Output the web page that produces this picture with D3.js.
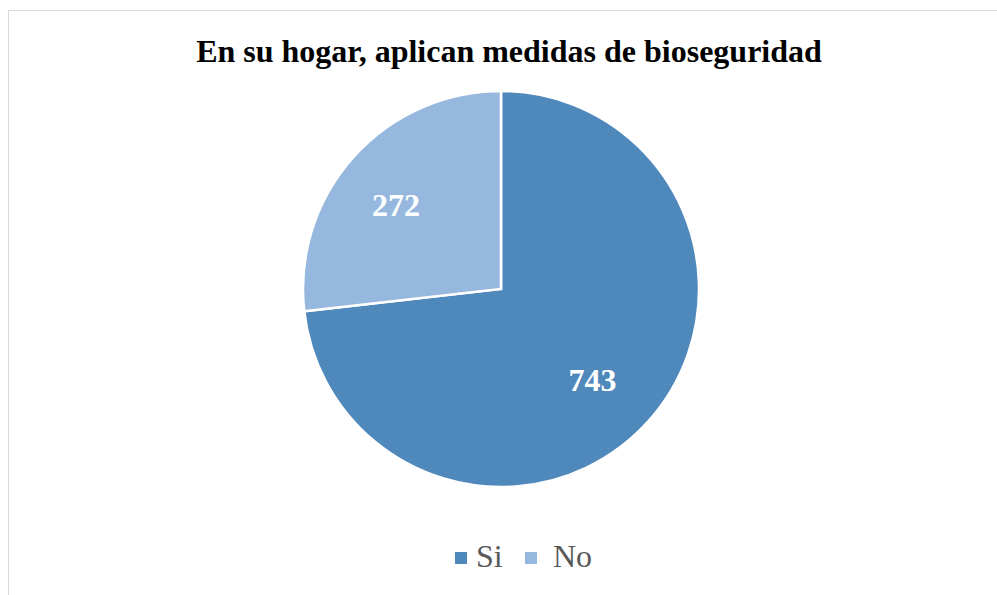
<!DOCTYPE html>
<html>
<head>
<meta charset="utf-8">
<script src="https://cdn.jsdelivr.net/npm/d3@7"></script>
<style>
  body { margin: 0; background: #fff; }
  svg { display: block; }
</style>
</head>
<body>
<svg id="chart" width="997" height="595"></svg>
<script>
var categories = ["Si", "No"];
var values = [743, 272];
var colors = ["#4f88bb", "#97b8de"];
var title = "En su hogar, aplican medidas de bioseguridad";

var svg = d3.select("#chart"),
    width = +svg.attr("width"),
    height = +svg.attr("height");

// chart frame
svg.append("rect")
    .attr("x", 8.5).attr("y", 10.5)
    .attr("width", 1000).attr("height", 600)
    .attr("fill", "#fff")
    .attr("stroke", "#d9d9d9");

svg.append("text")
    .attr("x", 509).attr("y", 62)
    .attr("text-anchor", "middle")
    .style("font", "bold 32px 'Liberation Serif', serif")
    .attr("fill", "#000")
    .text(title);

var cx = 501, cy = 289, r = 198;
var color = d3.scaleOrdinal().domain(categories).range(colors);
var labelR = d3.scaleOrdinal().domain(categories).range([0.66, 0.67]);

var pie = d3.pie().sort(null).value(function(d, i) { return values[i]; });
var arcs = pie(categories);
var arc = d3.arc().innerRadius(0).outerRadius(r);

var g = svg.append("g").attr("transform", "translate(" + cx + "," + cy + ")");

g.selectAll(".slice")
  .data(arcs)
  .enter().append("path")
    .attr("class", "slice")
    .attr("d", arc)
    .attr("fill", function(d) { return color(d.data); })
    .attr("stroke", "#fff")
    .attr("stroke-width", 2.5)
    .attr("stroke-linejoin", "miter");

g.selectAll(".lbl")
  .data(arcs)
  .enter().append("text")
    .attr("class", "lbl")
    .attr("transform", function(d) {
      var k = r * labelR(d.data);
      var c = d3.arc().innerRadius(k).outerRadius(k).centroid(d);
      return "translate(" + [c[0] - 6, c[1] + 4] + ")";
    })
    .attr("text-anchor", "middle")
    .attr("dy", "0.35em")
    .style("font", "bold 32px 'Liberation Serif', serif")
    .attr("fill", "#fff")
    .text(function(d) { return values[d.index]; });

// legend
var legendX = d3.scaleOrdinal().domain(categories).range([455, 525]);
var legendTextX = d3.scaleOrdinal().domain(categories).range([21, 28]);
var leg = svg.selectAll(".leg")
  .data(categories)
  .enter().append("g")
    .attr("class", "leg")
    .attr("transform", function(d) { return "translate(" + legendX(d) + ",552)"; });

leg.append("rect")
    .attr("x", 0).attr("y", 0)
    .attr("width", 12).attr("height", 12)
    .attr("fill", function(d) { return color(d); });

leg.append("text")
    .attr("x", function(d) { return legendTextX(d); })
    .attr("y", 15)
    .style("font", "32px 'Liberation Serif', serif")
    .attr("fill", "#595959")
    .text(function(d) { return d; });
</script>
</body>
</html>
